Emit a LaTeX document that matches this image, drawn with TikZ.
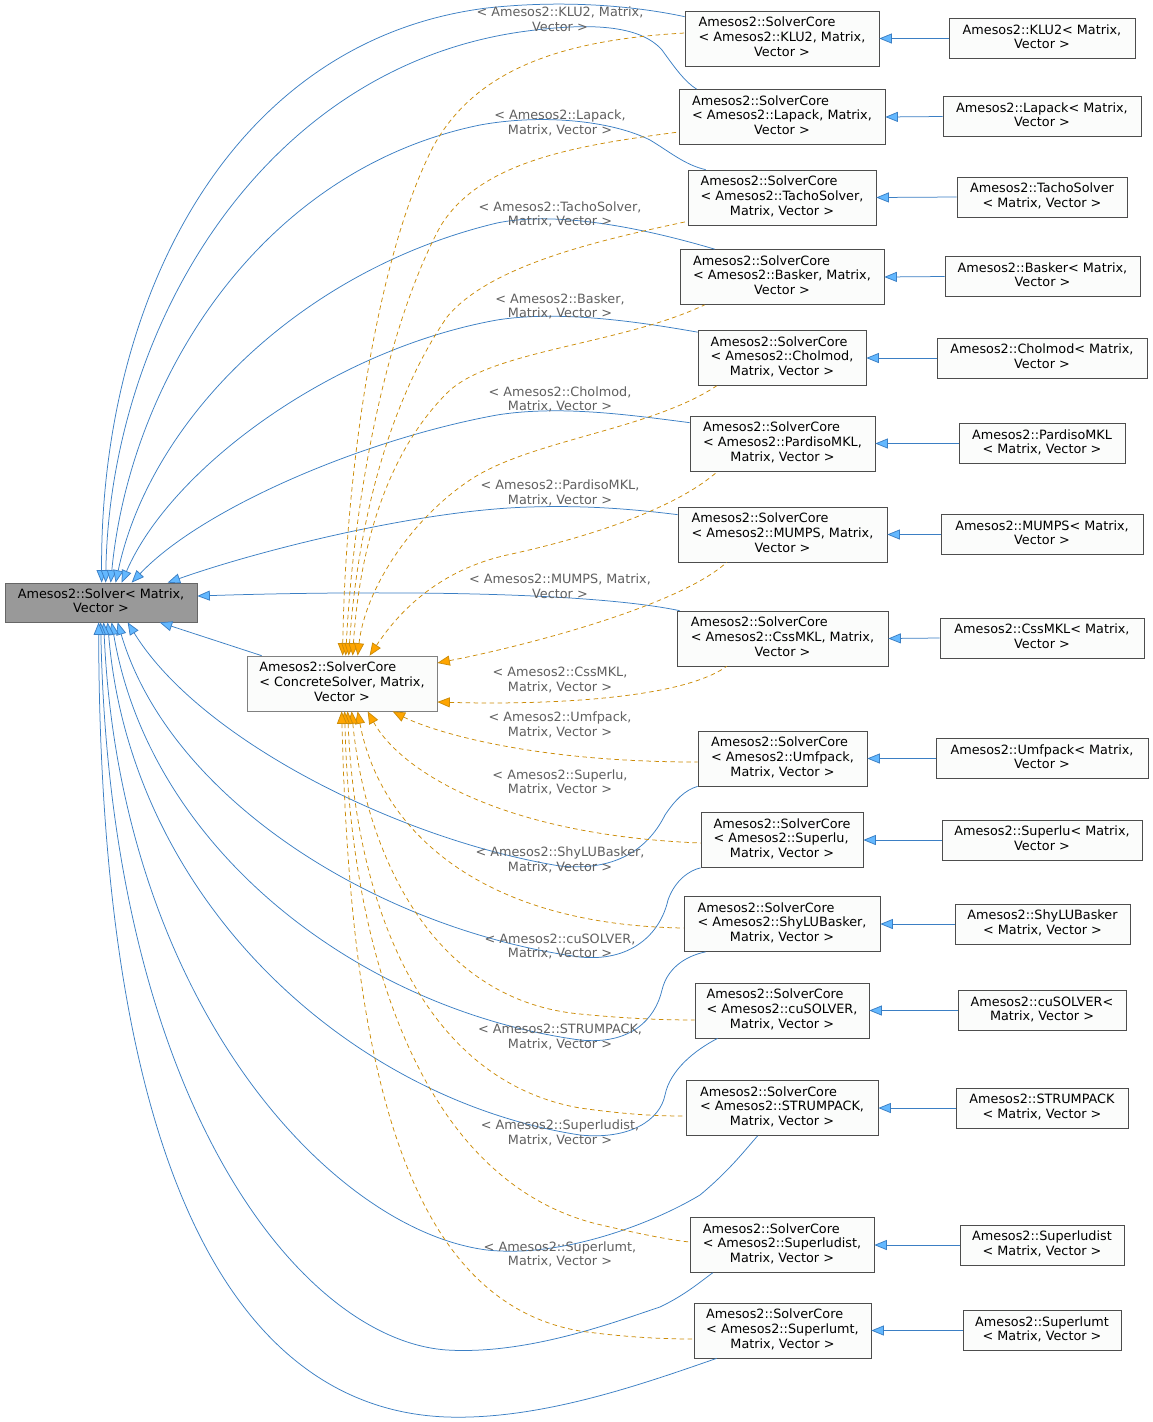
\documentclass[tikz,border=0pt]{standalone}
\usepackage{fontspec}
\setmainfont{DejaVu Sans}
\usetikzlibrary{arrows.meta}
\definecolor{edgeblue}{HTML}{3B7FC4}
\definecolor{headblue}{HTML}{63B8FF}
\definecolor{edgeorange}{HTML}{CC8C08}
\definecolor{headorange}{HTML}{FFA500}
\definecolor{boxline}{HTML}{4D4D4D}
\definecolor{boxfill}{HTML}{FBFCFB}
\definecolor{labelgray}{HTML}{606060}
\newcommand{\threel}[3]{\begin{tabular}{@{}l@{}}#1\\#2\\\multicolumn{1}{@{}c@{}}{#3}\end{tabular}}
\newcommand{\twol}[2]{\begin{tabular}{@{}l@{}}#1\\\multicolumn{1}{@{}c@{}}{#2}\end{tabular}}
\tikzset{
  txt/.style={font=\fontsize{12.8}{14.6}\selectfont},
  cls/.style={txt, draw=boxline, fill=boxfill, line width=0.7pt, inner sep=0pt, minimum height=55pt},
  leaf/.style={txt, draw=boxline, fill=boxfill, line width=0.7pt, inner sep=0pt, minimum height=40pt},
  root/.style={txt, draw=black!60, fill=black!40, line width=0.7pt, inner sep=0pt, minimum height=39pt},
  lbl/.style={txt, text=labelgray, align=center, inner sep=0pt},
  inh/.style={draw=edgeblue, line width=0.75pt, arrows={Triangle[length=12.5pt,width=10pt,fill=headblue]-}},
  tmpl/.style={draw=edgeorange, line width=0.75pt, dash pattern=on 4.5pt off 3.5pt, arrows={Triangle[length=12.5pt,width=10pt,fill=headorange]-}}
}
\begin{document}
\begin{tikzpicture}[x=1pt,y=-1pt]
\useasboundingbox[fill=white] (0,0) rectangle (1153,1422);
% root and concrete
\node[root, minimum width=192pt] (solver) at (101,602.5) {\twol{Amesos2::Solver< Matrix,}{Vector >}};
\node[cls, draw=black!50, minimum width=190pt] (cs) at (342,683.5) {\threel{Amesos2::SolverCore}{< ConcreteSolver, Matrix,}{Vector >}};
% middle column
\node[cls, minimum width=194pt] (m1) at (782,38.5) {\threel{Amesos2::SolverCore}{< Amesos2::KLU2, Matrix,}{Vector >}};
\node[cls, minimum width=206pt] (m2) at (782,117) {\threel{Amesos2::SolverCore}{< Amesos2::Lapack, Matrix,}{Vector >}};
\node[cls, minimum width=188pt] (m3) at (782,197.5) {\threel{Amesos2::SolverCore}{< Amesos2::TachoSolver,}{Matrix, Vector >}};
\node[cls, minimum width=204pt] (m4) at (782,277) {\threel{Amesos2::SolverCore}{< Amesos2::Basker, Matrix,}{Vector >}};
\node[cls, minimum width=168pt] (m5) at (782,358) {\threel{Amesos2::SolverCore}{< Amesos2::Cholmod,}{Matrix, Vector >}};
\node[cls, minimum width=185pt] (m6) at (782.5,443.5) {\threel{Amesos2::SolverCore}{< Amesos2::PardisoMKL,}{Matrix, Vector >}};
\node[cls, minimum width=209pt] (m7) at (782.5,534.5) {\threel{Amesos2::SolverCore}{< Amesos2::MUMPS, Matrix,}{Vector >}};
\node[cls, minimum width=211pt] (m8) at (782.5,638.5) {\threel{Amesos2::SolverCore}{< Amesos2::CssMKL, Matrix,}{Vector >}};
\node[cls, minimum width=169pt] (m9) at (782.5,758.5) {\threel{Amesos2::SolverCore}{< Amesos2::Umfpack,}{Matrix, Vector >}};
\node[cls, minimum width=162pt] (m10) at (782,840) {\threel{Amesos2::SolverCore}{< Amesos2::Superlu,}{Matrix, Vector >}};
\node[cls, minimum width=196pt] (m11) at (782,924) {\threel{Amesos2::SolverCore}{< Amesos2::ShyLUBasker,}{Matrix, Vector >}};
\node[cls, minimum width=174pt] (m12) at (782,1010.5) {\threel{Amesos2::SolverCore}{< Amesos2::cuSOLVER,}{Matrix, Vector >}};
\node[cls, minimum width=192pt] (m13) at (782,1108) {\threel{Amesos2::SolverCore}{< Amesos2::STRUMPACK,}{Matrix, Vector >}};
\node[cls, minimum width=184pt] (m14) at (782,1245) {\threel{Amesos2::SolverCore}{< Amesos2::Superludist,}{Matrix, Vector >}};
\node[cls, minimum width=177pt] (m15) at (782.5,1330.5) {\threel{Amesos2::SolverCore}{< Amesos2::Superlumt,}{Matrix, Vector >}};
% right column
\node[leaf, minimum width=186pt] (r1) at (1042,38.5) {\twol{Amesos2::KLU2< Matrix,}{Vector >}};
\node[leaf, minimum width=198pt] (r2) at (1042,116.5) {\twol{Amesos2::Lapack< Matrix,}{Vector >}};
\node[leaf, minimum width=170pt] (r3) at (1042,197) {\twol{Amesos2::TachoSolver}{< Matrix, Vector >}};
\node[leaf, minimum width=195pt] (r4) at (1042.5,276.5) {\twol{Amesos2::Basker< Matrix,}{Vector >}};
\node[leaf, minimum width=210pt] (r5) at (1042,358) {\twol{Amesos2::Cholmod< Matrix,}{Vector >}};
\node[leaf, minimum width=166pt] (r6) at (1042,443.5) {\twol{Amesos2::PardisoMKL}{< Matrix, Vector >}};
\node[leaf, minimum width=202pt] (r7) at (1042,534.5) {\twol{Amesos2::MUMPS< Matrix,}{Vector >}};
\node[leaf, minimum width=204pt] (r8) at (1042,638) {\twol{Amesos2::CssMKL< Matrix,}{Vector >}};
\node[leaf, minimum width=212pt] (r9) at (1042,758.5) {\twol{Amesos2::Umfpack< Matrix,}{Vector >}};
\node[leaf, minimum width=200pt] (r10) at (1042,840) {\twol{Amesos2::Superlu< Matrix,}{Vector >}};
\node[leaf, minimum width=175pt] (r11) at (1042.5,924) {\twol{Amesos2::ShyLUBasker}{< Matrix, Vector >}};
\node[leaf, minimum width=168pt] (r12) at (1042,1010.5) {\twol{Amesos2::cuSOLVER<}{Matrix, Vector >}};
\node[leaf, minimum width=172pt] (r13) at (1042,1108) {\twol{Amesos2::STRUMPACK}{< Matrix, Vector >}};
\node[leaf, minimum width=164pt] (r14) at (1042,1245) {\twol{Amesos2::Superludist}{< Matrix, Vector >}};
\node[leaf, minimum width=158pt] (r15) at (1042,1330.5) {\twol{Amesos2::Superlumt}{< Matrix, Vector >}};
% right -> middle
\foreach \i in {1,...,15} { \draw[inh] (m\i.east) -- (r\i.west); }
% middle -> Solver (blue)
\draw[inh] ([xshift=97pt]solver.north west) .. controls (100,300) and (230,40) .. (487,8) .. controls (560,0) and (630,5) .. ([yshift=-6pt]m1.north west);
\draw[inh] ([xshift=101pt]solver.north west) .. controls (110,330) and (260,70) .. (520,32) .. controls (590,22) and (640,25) .. (662,50) .. controls (675,68) and (685,82) .. ([xshift=18pt]m2.north west);
\draw[inh] ([xshift=106pt]solver.north west) .. controls (130,380) and (260,170) .. (480,125) .. controls (540,114) and (610,120) .. (650,140) .. controls (670,152) and (685,165) .. ([xshift=18pt]m3.north west);
\draw[inh] ([xshift=111pt]solver.north west) .. controls (150,420) and (300,270) .. (497,223) .. controls (560,210) and (650,230) .. ([xshift=35pt]m4.north west);
\draw[inh] ([xshift=117pt]solver.north west) .. controls (170,470) and (330,350) .. (497,320) .. controls (560,310) and (640,322) .. ([yshift=-2pt]m5.north west);
\draw[inh] ([xshift=127pt]solver.north west) .. controls (200,510) and (360,440) .. (497,415) .. controls (560,405) and (630,415) .. ([yshift=-7pt]m6.north west);
\draw[inh] ([xshift=163pt]solver.north west) .. controls (260,550) and (420,510) .. (530,507) .. controls (590,505) and (640,510) .. ([yshift=-8pt]m7.north west);
\draw[inh] ([yshift=6.5pt]solver.east) .. controls (350,591) and (580,590) .. ([xshift=3pt]m8.north west);
\draw[inh] ([xshift=155pt]solver.south west) -- ([xshift=15pt]cs.north west);
\draw[inh] ([xshift=123pt]solver.south west) .. controls (200,740) and (400,840) .. (560,866) .. controls (620,872) and (650,845) .. (665,815) .. controls (675,800) and (685,790) .. (m9.south west);
\draw[inh] ([xshift=113pt]solver.south west) .. controls (170,800) and (380,930) .. (580,957) .. controls (630,962) and (660,935) .. (668,900) .. controls (675,880) and (690,870) .. (m10.south west);
\draw[inh] ([xshift=107pt]solver.south west) .. controls (150,850) and (360,1010) .. (580,1040) .. controls (630,1045) and (655,1020) .. (662,990) .. controls (668,965) and (690,955) .. ([xshift=22pt]m11.south west);
\draw[inh] ([xshift=103pt]solver.south west) .. controls (130,900) and (350,1100) .. (580,1135) .. controls (630,1140) and (660,1120) .. (665,1095) .. controls (670,1070) and (695,1050) .. ([xshift=23pt]m12.south west);
\draw[inh] ([xshift=99pt]solver.south west) .. controls (120,1000) and (330,1230) .. (487,1250) .. controls (560,1258) and (650,1225) .. (700,1195) .. controls (730,1170) and (745,1150) .. ([xshift=72pt]m13.south west);
\draw[inh] ([xshift=96pt]solver.south west) .. controls (110,1100) and (300,1340) .. (447,1350) .. controls (530,1355) and (620,1320) .. (660,1307) .. controls (685,1295) and (700,1282) .. ([xshift=23pt]m14.south west);
\draw[inh] ([xshift=94pt]solver.south west) .. controls (100,1200) and (250,1410) .. (447,1417) .. controls (540,1420) and (640,1385) .. ([xshift=23pt]m15.south west);
% middle -> ConcreteSolver (orange dashed)
\draw[tmpl] ([xshift=96pt]cs.north west) .. controls (345,480) and (375,260) .. (433,147) .. controls (475,70) and (560,40) .. ([yshift=5.5pt]m1.west);
\draw[tmpl] ([xshift=99pt]cs.north west) .. controls (355,480) and (390,320) .. (440,227) .. controls (480,160) and (580,145) .. ([yshift=-15pt]m2.west);
\draw[tmpl] ([xshift=102pt]cs.north west) .. controls (358,520) and (390,400) .. (447,317) .. controls (490,265) and (600,240) .. ([yshift=4pt]m3.south west);
\draw[tmpl] ([xshift=106pt]cs.north west) .. controls (360,540) and (390,450) .. (447,393) .. controls (490,350) and (620,345) .. ([xshift=25pt]m4.south west);
\draw[tmpl] ([xshift=111pt]cs.north west) .. controls (365,590) and (410,520) .. (470,480) .. controls (530,440) and (650,430) .. ([xshift=19pt]m5.south west);
\draw[tmpl] ([xshift=123pt]cs.north west) .. controls (400,610) and (440,570) .. (507,555) .. controls (600,535) and (680,505) .. ([xshift=28pt]m6.south west);
\draw[tmpl] ([yshift=20.5pt]cs.east) .. controls (530,645) and (680,605) .. ([xshift=49pt]m7.south west);
\draw[tmpl] ([yshift=-18.5pt]cs.east) .. controls (540,705) and (680,700) .. ([xshift=50pt]m8.south west);
\draw[tmpl] ([xshift=146pt]cs.south west) .. controls (425,728) and (520,762) .. ([yshift=-3.5pt]m9.west);
\draw[tmpl] ([xshift=121pt]cs.south west) .. controls (400,770) and (500,835) .. ([yshift=-3pt]m10.west);
\draw[tmpl] ([xshift=111pt]cs.south west) .. controls (380,830) and (480,925) .. ([yshift=-4pt]m11.west);
\draw[tmpl] ([xshift=105pt]cs.south west) .. controls (365,850) and (430,1000) .. (580,1014) .. controls (630,1019) and (670,1020) .. ([yshift=-9.5pt]m12.west);
\draw[tmpl] ([xshift=101pt]cs.south west) .. controls (355,900) and (420,1080) .. (580,1108) .. controls (630,1115) and (660,1116) .. ([yshift=-8pt]m13.west);
\draw[tmpl] ([xshift=98pt]cs.south west) .. controls (350,950) and (420,1180) .. (597,1224) .. controls (640,1234) and (670,1240) .. ([yshift=3pt]m14.west);
\draw[tmpl] ([xshift=95pt]cs.south west) .. controls (350,1050) and (400,1300) .. (580,1331) .. controls (630,1338) and (670,1339) .. ([yshift=-8.5pt]m15.west);
% labels
\node[lbl] (l1) at (560,19) {< Amesos2::KLU2, Matrix,\\Vector >};
\node[lbl] (l2) at (560,123) {< Amesos2::Lapack,\\Matrix, Vector >};
\node[lbl] (l3) at (560,214.5) {< Amesos2::TachoSolver,\\Matrix, Vector >};
\node[lbl] (l4) at (560,306.5) {< Amesos2::Basker,\\Matrix, Vector >};
\node[lbl] (l5) at (560,399.5) {< Amesos2::Cholmod,\\Matrix, Vector >};
\node[lbl] (l6) at (560,493) {< Amesos2::PardisoMKL,\\Matrix, Vector >};
\node[lbl] (l7) at (560,586.5) {< Amesos2::MUMPS, Matrix,\\Vector >};
\node[lbl] (l8) at (560,680) {< Amesos2::CssMKL,\\Matrix, Vector >};
\node[lbl] (l9) at (560,725) {< Amesos2::Umfpack,\\Matrix, Vector >};
\node[lbl] (l10) at (560,782.5) {< Amesos2::Superlu,\\Matrix, Vector >};
\node[lbl] (l11) at (560,860) {< Amesos2::ShyLUBasker,\\Matrix, Vector >};
\node[lbl] (l12) at (560,946.5) {< Amesos2::cuSOLVER,\\Matrix, Vector >};
\node[lbl] (l13) at (560,1037) {< Amesos2::STRUMPACK,\\Matrix, Vector >};
\node[lbl] (l14) at (560,1133) {< Amesos2::Superludist,\\Matrix, Vector >};
\node[lbl] (l15) at (560,1254.5) {< Amesos2::Superlumt,\\Matrix, Vector >};
\end{tikzpicture}
\end{document}
